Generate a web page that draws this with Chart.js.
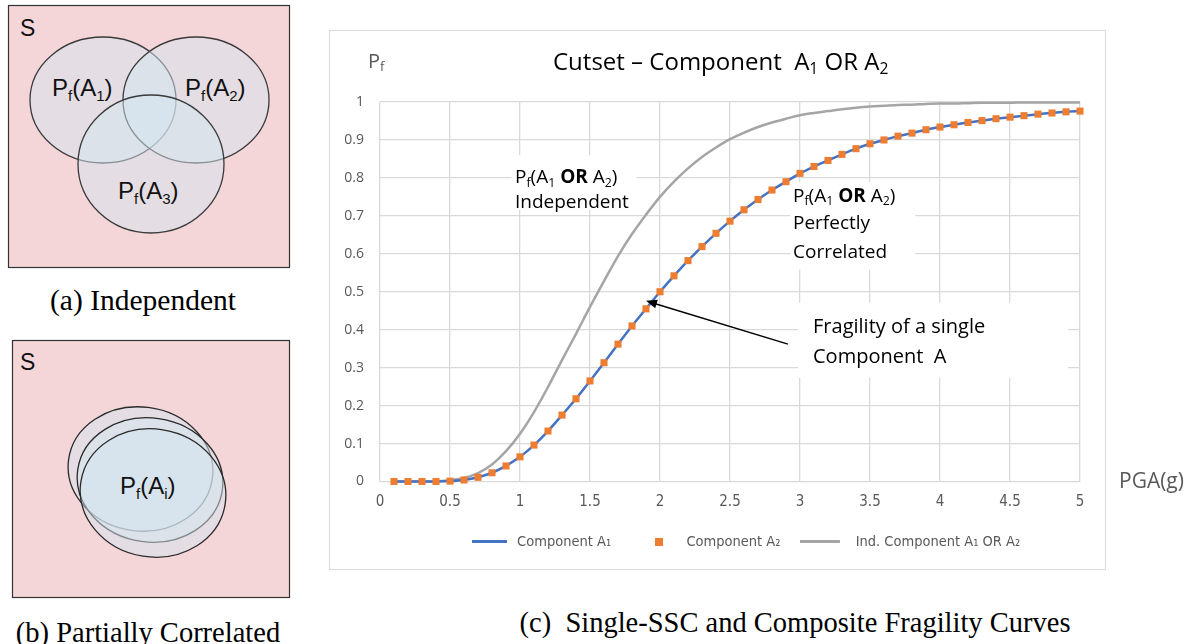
<!DOCTYPE html>
<html>
<head>
<meta charset="utf-8">
<script src="https://cdn.jsdelivr.net/npm/chart.js@4.4.1/dist/chart.umd.min.js"></script>
<style>
body{margin:0;background:#fff;width:1190px;height:644px;overflow:hidden;position:relative;font-family:"Liberation Sans",Arial,sans-serif}
.abs{position:absolute}
#frame{left:329px;top:30px;width:775px;height:538px;border:1.5px solid #d9d9d9}
#wrap{left:330px;top:30px;width:830px;height:540px}
#pga{left:1119px;top:466px;font-family:"Open Sans",sans-serif;font-size:21px;color:#595959}
.cap{font-family:"Liberation Serif","Times New Roman",serif;font-size:28px;fill:#000}
</style>
</head>
<body>
<svg class="abs" style="left:0;top:0" width="330" height="644">
  <!-- (a) independent -->
  <rect x="8.5" y="5.5" width="281" height="262" fill="#f4d6d9" stroke="#333" stroke-width="1.2"/>
  <g fill="rgba(211,230,240,0.5)" stroke="#3a3a3a" stroke-width="1.3">
    <ellipse cx="103" cy="100" rx="73" ry="63"/>
    <ellipse cx="196" cy="100" rx="73" ry="63"/>
    <ellipse cx="151" cy="164" rx="73" ry="69"/>
  </g>
  <g font-family="Liberation Sans, Arial, sans-serif" font-size="24" fill="#111">
    <text x="20" y="36" font-size="23">S</text>
    <text x="52" y="96">P<tspan font-size="15" dy="5">f</tspan><tspan dy="-5">(A</tspan><tspan font-size="15" dy="5">1</tspan><tspan dy="-5">)</tspan></text>
    <text x="185" y="96">P<tspan font-size="15" dy="5">f</tspan><tspan dy="-5">(A</tspan><tspan font-size="15" dy="5">2</tspan><tspan dy="-5">)</tspan></text>
    <text x="118" y="199">P<tspan font-size="15" dy="5">f</tspan><tspan dy="-5">(A</tspan><tspan font-size="15" dy="5">3</tspan><tspan dy="-5">)</tspan></text>
  </g>
  <text class="cap" x="143" y="310" text-anchor="middle" style="font-size:29.5px">(a) Independent</text>

  <!-- (b) partially correlated -->
  <rect x="12.5" y="340.5" width="277" height="257" fill="#f4d6d9" stroke="#333" stroke-width="1.2"/>
  <g fill="rgba(211,230,240,0.5)" stroke="#2a2a2a" stroke-width="1.3">
    <ellipse cx="140.5" cy="469" rx="72.5" ry="62" transform="rotate(7 140.5 469)"/>
    <ellipse cx="150" cy="480" rx="73" ry="62" transform="rotate(8 150 480)"/>
    <ellipse cx="153" cy="493" rx="73" ry="64" transform="rotate(9 153 493)"/>
  </g>
  <g font-family="Liberation Sans, Arial, sans-serif" font-size="24" fill="#111">
    <text x="20" y="370" font-size="23">S</text>
    <text x="120" y="494">P<tspan font-size="15" dy="5">f</tspan><tspan dy="-5">(A</tspan><tspan font-size="15" dy="5">i</tspan><tspan dy="-5">)</tspan></text>
  </g>
  <text class="cap" x="148" y="642" text-anchor="middle" style="font-size:28.5px">(b) Partially Correlated</text>
</svg>

<div id="frame" class="abs"></div>
<div id="wrap" class="abs"><canvas id="c" width="830" height="540"></canvas></div>
<div id="pga" class="abs">PGA(g)</div>
<svg class="abs" style="left:330px;top:600px" width="860" height="44">
  <text class="cap" x="465" y="32" text-anchor="middle" style="font-size:28.5px">(c)&#160;&#160;Single-SSC and Composite Fragility Curves</text>
</svg>

<script>
// PGA values (g) of the computed points
const pga = [0.1,0.2,0.3,0.4,0.5,0.6,0.7,0.8,0.9,1.0,
             1.1,1.2,1.3,1.4,1.5,1.6,1.7,1.8,1.9,2.0,
             2.1,2.2,2.3,2.4,2.5,2.6,2.7,2.8,2.9,3.0,
             3.1,3.2,3.3,3.4,3.5,3.6,3.7,3.8,3.9,4.0,
             4.1,4.2,4.3,4.4,4.5,4.6,4.7,4.8,4.9,5.0];
// fragility of a single component
const compA1 = [0,0,0,0,0.001,0.004,0.011,0.023,0.041,0.065,
                0.096,0.133,0.175,0.218,0.265,0.313,0.362,0.41,0.455,0.5,
                0.542,0.582,0.619,0.654,0.686,0.716,0.743,0.768,0.79,0.812,
                0.83,0.846,0.862,0.877,0.89,0.9,0.91,0.918,0.927,0.934,
                0.94,0.946,0.951,0.956,0.96,0.964,0.968,0.971,0.974,0.976];
// second component, same curve (orange squares)
const compA2 = [0,0,0,0,0.001,0.004,0.011,0.023,0.041,0.065,
                0.096,0.133,0.175,0.218,0.265,0.313,0.362,0.41,0.455,0.5,
                0.542,0.582,0.619,0.654,0.686,0.716,0.743,0.768,0.79,0.812,
                0.83,0.846,0.862,0.877,0.89,0.9,0.91,0.918,0.927,0.934,
                0.94,0.946,0.951,0.956,0.96,0.964,0.968,0.971,0.974,0.976];
// A1 OR A2, independent components (grey curve)
const indA1orA2 = [0,0,0,0,0.003,0.009,0.022,0.045,0.08,0.126,
                   0.183,0.249,0.32,0.389,0.46,0.528,0.594,0.652,0.703,0.75,
                   0.79,0.825,0.855,0.88,0.902,0.919,0.934,0.946,0.956,0.965,
                   0.971,0.976,0.981,0.985,0.988,0.99,0.992,0.993,0.995,0.996,
                   0.996,0.997,0.998,0.998,0.998,0.999,0.999,0.999,0.999,0.999];
const seriesNames = ['Component A\u2081','Component A\u2082','Ind. Component A\u2081 OR A\u2082'];
const xTicks = [0,0.5,1,1.5,2,2.5,3,3.5,4,4.5,5];

const FONT = '"Open Sans", sans-serif';
const NARROW = '"Liberation Sans Narrow", "DejaVu Sans Condensed", "Open Sans", sans-serif';

function pts(vals){ return pga.map((x,i) => ({x:x, y:vals[i]})); }

// little images used as legend symbols
function icon(w, h, draw){
  const c = document.createElement('canvas');
  c.width = w; c.height = h;
  draw(c.getContext('2d'));
  return c;
}
const legendIcons = [
  icon(35, 3, g => { g.fillStyle = '#4472c4'; g.fillRect(0,0,35,3); }),
  icon(8, 8, g => { g.fillStyle = '#ed7d31'; g.fillRect(0,0,8,8); }),
  icon(57, 3, g => { g.fillStyle = '#a5a5a5'; g.fillRect(0,0,40,3); })
];

// draws text with subscripts / bold pieces, returns width
function rich(ctx, parts, x, y, size, color){
  ctx.fillStyle = color;
  ctx.textBaseline = 'middle';
  ctx.textAlign = 'left';
  let cx = x;
  parts.forEach(p => {
    const t = p[0], kind = p[1] || '';
    const s = kind == 'sub' ? size*0.65 : size;
    ctx.font = (kind == 'b' ? 'bold ' : '') + s + 'px ' + FONT;
    const dy = kind == 'sub' ? size*0.28 : 0;
    ctx.fillText(t, cx, y + dy);
    cx += ctx.measureText(t).width;
  });
  return cx - x;
}
const orLine = [['P'],['f','sub'],['(A'],['1','sub'],[' '],['OR','b'],[' A'],['2','sub'],[')']];

const overlay = {
  id: 'overlay',
  beforeDatasetsDraw(chart){
    const {ctx, scales:{x, y}} = chart;
    ctx.save();
    ctx.fillStyle = '#fff';
    // label boxes (white, hide the grid)
    ctx.fillRect(x.getPixelForValue(0.94), y.getPixelForValue(0.86), 125, 55);
    ctx.fillRect(x.getPixelForValue(2.93), y.getPixelForValue(0.79), 125, 88);
    ctx.fillRect(x.getPixelForValue(2.986), y.getPixelForValue(0.471), 270, 75);
    rich(ctx, orLine, x.getPixelForValue(0.964), y.getPixelForValue(0.8), 19, '#000');
    rich(ctx, [['Independent']], x.getPixelForValue(0.964), y.getPixelForValue(0.735), 19, '#000');
    rich(ctx, orLine, x.getPixelForValue(2.95), y.getPixelForValue(0.751), 19, '#000');
    rich(ctx, [['Perfectly']], x.getPixelForValue(2.95), y.getPixelForValue(0.68), 19, '#000');
    rich(ctx, [['Correlated']], x.getPixelForValue(2.95), y.getPixelForValue(0.603), 19, '#000');
    rich(ctx, [['Fragility of a single']], x.getPixelForValue(3.093), y.getPixelForValue(0.407), 20, '#000');
    rich(ctx, [['Component  A']], x.getPixelForValue(3.093), y.getPixelForValue(0.328), 20, '#000');
    ctx.restore();
  },
  afterDraw(chart){
    const {ctx, chartArea:a, scales:{x, y}} = chart;
    ctx.save();
    // title and axis name
    rich(ctx, [['Cutset \u2013 Component  A'],['1','sub'],[' OR A'],['2','sub']], a.left+173, a.top-39, 24, '#000');
    rich(ctx, [['P'],['f','sub']], a.left-12, a.top-40, 20, '#595959');
    // arrow to the single component curve
    const x0 = x.getPixelForValue(2.914), y0 = y.getPixelForValue(0.362);
    const x1 = x.getPixelForValue(1.9), y1 = y.getPixelForValue(0.476);
    const ang = Math.atan2(y1-y0, x1-x0);
    ctx.strokeStyle = '#000'; ctx.lineWidth = 1.5;
    ctx.beginPath(); ctx.moveTo(x0, y0);
    ctx.lineTo(x1 - 8*Math.cos(ang), y1 - 8*Math.sin(ang)); ctx.stroke();
    ctx.fillStyle = '#000';
    ctx.beginPath();
    ctx.moveTo(x1, y1);
    ctx.lineTo(x1 - 11*Math.cos(ang) + 4.5*Math.sin(ang), y1 - 11*Math.sin(ang) - 4.5*Math.cos(ang));
    ctx.lineTo(x1 - 11*Math.cos(ang) - 4.5*Math.sin(ang), y1 - 11*Math.sin(ang) + 4.5*Math.cos(ang));
    ctx.closePath(); ctx.fill();
    ctx.restore();
  }
};

new Chart(document.getElementById('c'), {
  type: 'line',
  data: {
    datasets: [
      { label: seriesNames[0], data: pts(compA1), borderColor: '#4472c4', backgroundColor: '#4472c4',
        borderWidth: 2.5, pointRadius: 0, cubicInterpolationMode: 'monotone', order: 2 },
      { label: seriesNames[1], data: pts(compA2), showLine: false, pointStyle: 'rect', pointRadius: 5,
        pointBackgroundColor: '#ed7d31', pointBorderWidth: 0, borderColor: '#ed7d31', order: 1 },
      { label: seriesNames[2], data: pts(indA1orA2), borderColor: '#a5a5a5', backgroundColor: '#a5a5a5',
        borderWidth: 2.5, pointRadius: 0, cubicInterpolationMode: 'monotone', order: 3 }
    ]
  },
  options: {
    responsive: false,
    animation: false,
    devicePixelRatio: 1,
    clip: false,
    layout: { padding: { top: 72, left: 0, right: 0, bottom: 11 } },
    scales: {
      x: {
        type: 'linear', min: 0, max: 5,
        afterBuildTicks: s => { s.ticks = xTicks.map(v => ({value: v})); },
        afterFit: s => { s.height = 25; },
        grid: { color: '#d9d9d9', lineWidth: 1.3, drawTicks: false },
        border: { display: false },
        ticks: { padding: 12, color: '#595959', font: { family: NARROW, size: 15 },
                 callback: v => String(Number(v.toFixed(2))) }
      },
      y: {
        min: 0, max: 1,
        afterFit: s => { s.width = 50; },
        grid: { color: '#d9d9d9', lineWidth: 1.3, drawTicks: false },
        border: { display: false },
        ticks: { stepSize: 0.1, padding: 16, color: '#595959', font: { family: FONT, size: 14 },
                 callback: v => String(Number(v.toFixed(2))) }
      },
      yR: {
        type: 'linear', position: 'right',
        afterFit: s => { s.width = 80; },
        grid: { display: false }, border: { display: false }, ticks: { display: false }
      }
    },
    plugins: {
      title: { display: false },
      tooltip: { enabled: false },
      legend: {
        position: 'bottom',
        labels: {
          usePointStyle: true, pointStyleWidth: 40, padding: 28,
          color: '#595959', font: { family: NARROW, size: 14.5 },
          generateLabels: chart => chart.data.datasets.map((ds, i) => ({
            text: ds.label, pointStyle: legendIcons[i], fontColor: '#595959',
            datasetIndex: i, hidden: false, lineWidth: 0,
            strokeStyle: 'rgba(0,0,0,0)', fillStyle: 'rgba(0,0,0,0)'
          }))
        }
      }
    }
  },
  plugins: [overlay]
});
</script>
</body>
</html>
